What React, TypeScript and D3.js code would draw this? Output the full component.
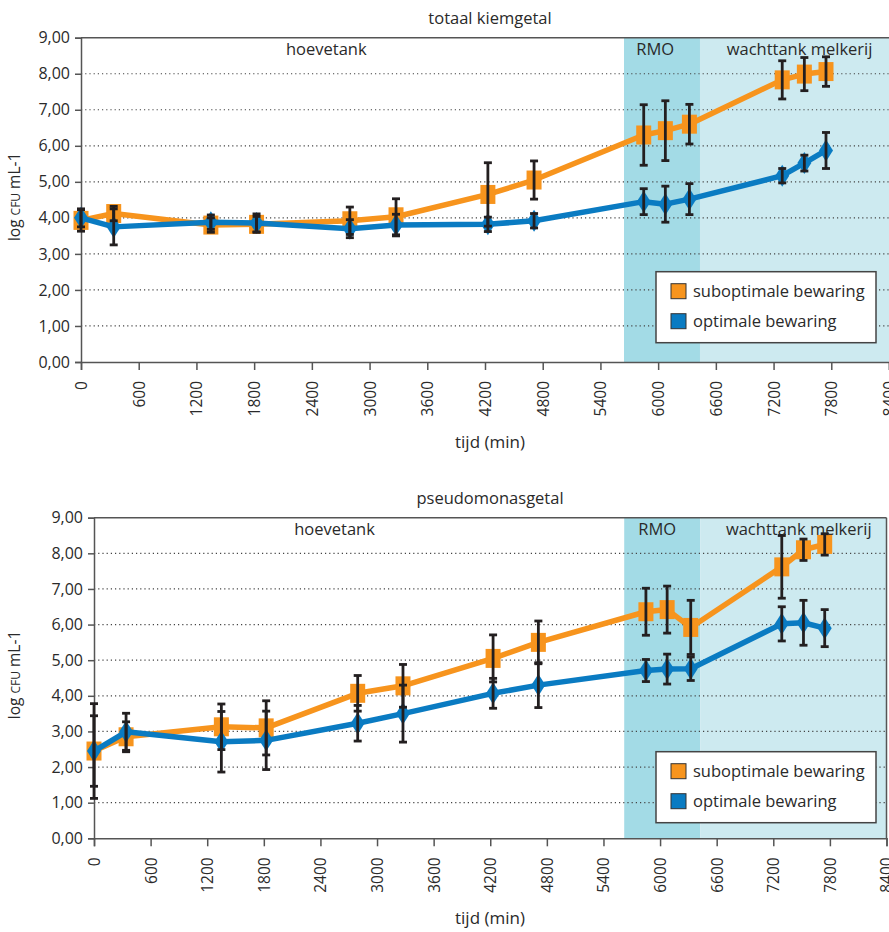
import React, { useEffect, useRef } from 'react';
import * as d3 from 'd3';

// tijd (min) van de meetpunten
const tijd = [0, 340, 1350, 1825, 2795, 3275, 4230, 4710, 5850, 6075, 6325, 7290, 7520, 7745];
const xTicks = [0, 600, 1200, 1800, 2400, 3000, 3600, 4200, 4800, 5400, 6000, 6600, 7200, 7800, 8400];
const yTicks = [0, 1, 2, 3, 4, 5, 6, 7, 8, 9];

// totaal kiemgetal
const kiemSub = [3.93, 4.12, 3.8, 3.82, 3.92, 4.03, 4.65, 5.05, 6.3, 6.42, 6.6, 7.83, 7.99, 8.06];
const kiemSubSd = [0.3, 0.2, 0.2, 0.22, 0.38, 0.5, 0.88, 0.53, 0.84, 0.83, 0.55, 0.53, 0.46, 0.41];
const kiemOpt = [4.0, 3.75, 3.88, 3.86, 3.7, 3.8, 3.82, 3.92, 4.45, 4.38, 4.52, 5.17, 5.52, 5.87];
const kiemOptSd = [0.25, 0.5, 0.2, 0.25, 0.25, 0.3, 0.2, 0.2, 0.36, 0.5, 0.43, 0.2, 0.22, 0.5];

// pseudomonasgetal
const pseuSub = [2.45, 2.85, 3.13, 3.1, 4.07, 4.28, 5.05, 5.5, 6.36, 6.42, 5.92, 7.62, 8.1, 8.25];
const pseuSubSd = [1.33, 0.42, 0.64, 0.76, 0.5, 0.6, 0.66, 0.6, 0.66, 0.66, 0.76, 0.88, 0.3, 0.3];
const pseuOpt = [2.45, 2.99, 2.71, 2.75, 3.23, 3.5, 4.07, 4.3, 4.71, 4.75, 4.76, 6.02, 6.05, 5.9];
const pseuOptSd = [0.99, 0.52, 0.85, 0.82, 0.5, 0.8, 0.42, 0.63, 0.31, 0.42, 0.33, 0.48, 0.63, 0.52];

// fasen
const fasen = ['hoevetank', 'RMO', 'wachttank melkerij'];
const faseLabelX = [2550, 5970, 7470];
const rmoStart = [5645, 5620];
const rmoEnd = [6435, 6425];

const reeksen = ['suboptimale bewaring', 'optimale bewaring'];
const kleuren = ['#f7941d', '#0a7bc2'];

const FONT = "'Open Sans', 'DejaVu Sans', sans-serif";
const INK = '#2a2a2a';

type Panel = {
  title: string;
  sub: number[];
  subSd: number[];
  opt: number[];
  optSd: number[];
  left: number;
  right: number;
  top: number;
  bottom: number;
  idx: number;
  rightBorder: boolean;
};

const drawPanel = (svg: any, p: Panel) => {
  const x = d3.scaleLinear().domain([0, 8400]).range([p.left, p.right]);
  const y = d3.scaleLinear().domain([0, 9]).range([p.bottom, p.top]);
  const g = svg.append('g').attr('font-family', FONT).attr('fill', INK);

  // achtergrondzones
  g.append('rect')
    .attr('x', x(rmoStart[p.idx])).attr('y', p.top)
    .attr('width', x(rmoEnd[p.idx]) - x(rmoStart[p.idx])).attr('height', p.bottom - p.top)
    .attr('fill', '#a3dbe6');
  g.append('rect')
    .attr('x', x(rmoEnd[p.idx])).attr('y', p.top)
    .attr('width', x(8400) - x(rmoEnd[p.idx])).attr('height', p.bottom - p.top)
    .attr('fill', '#cdeaf0');

  // gridlijnen
  g.selectAll('.grid').data(yTicks.slice(1, -1)).join('line')
    .attr('x1', p.left).attr('x2', p.right)
    .attr('y1', (d: number) => y(d)).attr('y2', (d: number) => y(d))
    .attr('stroke', '#444').attr('stroke-width', 1.2).attr('stroke-dasharray', '1.2,3');

  // kader
  g.append('line').attr('x1', p.left).attr('x2', p.right).attr('y1', p.top).attr('y2', p.top)
    .attr('stroke', '#555').attr('stroke-width', 1.5);
  if (p.rightBorder) {
    g.append('line').attr('x1', p.right).attr('x2', p.right).attr('y1', p.top).attr('y2', p.bottom)
      .attr('stroke', '#555').attr('stroke-width', 1.5);
  }

  // assen
  const yAxis = d3.axisLeft(y).tickValues(yTicks).tickSize(6).tickPadding(5)
    .tickFormat((d: any) => d3.format('.2f')(d).replace('.', ','));
  const ya = g.append('g').attr('transform', `translate(${p.left},0)`).call(yAxis);
  ya.select('.domain').attr('stroke', '#555').attr('stroke-width', 1.5);
  ya.selectAll('line').attr('stroke', '#555').attr('stroke-width', 1.5);
  ya.selectAll('text').attr('font-size', 16).attr('font-family', FONT).attr('fill', INK);

  const xAxis = d3.axisBottom(x).tickValues(xTicks).tickSize(8).tickFormat((d: any) => String(d));
  const xa = g.append('g').attr('transform', `translate(0,${p.bottom})`).call(xAxis);
  xa.select('.domain').attr('stroke', '#555').attr('stroke-width', 1.5);
  xa.selectAll('line').attr('stroke', '#555').attr('stroke-width', 1.5);
  xa.selectAll('text')
    .attr('font-size', 15.5).attr('font-family', FONT).attr('fill', INK)
    .attr('text-anchor', 'end').attr('transform', 'rotate(-90)')
    .attr('x', -19).attr('y', 0).attr('dy', '0.35em');

  // titels
  g.append('text').attr('x', 490).attr('y', p.top - 14).attr('text-anchor', 'middle')
    .attr('font-size', 16.5).text(p.title);
  g.append('text').attr('x', 490).attr('y', p.bottom + 86).attr('text-anchor', 'middle')
    .attr('font-size', 17).text('tijd (min)');
  const yl = g.append('text')
    .attr('transform', `translate(20,${(p.top + p.bottom) / 2 - 3}) rotate(-90)`)
    .attr('text-anchor', 'middle').attr('font-size', 15.5);
  yl.append('tspan').text('log ');
  yl.append('tspan').attr('font-size', 12).text('CFU');
  yl.append('tspan').text(' mL-1');

  fasen.forEach((f, i) => {
    g.append('text').attr('x', x(faseLabelX[i])).attr('y', p.top + 17)
      .attr('text-anchor', 'middle').attr('font-size', 16.5).text(f);
  });

  const line = d3.line<number>().x((_, i) => x(tijd[i])).y((d) => y(d));
  const series = [
    { vals: p.sub, sd: p.subSd, color: kleuren[0], shape: 'square' },
    { vals: p.opt, sd: p.optSd, color: kleuren[1], shape: 'diamond' },
  ];

  series.forEach((s) => {
    g.append('path').attr('d', line(s.vals)).attr('fill', 'none')
      .attr('stroke', s.color).attr('stroke-width', 5.5).attr('stroke-linejoin', 'round');
    if (s.shape === 'square') {
      g.selectAll(null).data(s.vals).join('rect')
        .attr('x', (_: number, i: number) => x(tijd[i]) - 7.5)
        .attr('y', (d: number) => y(d) - 9.5)
        .attr('width', 15).attr('height', 19)
        .attr('fill', s.color);
    } else {
      g.selectAll(null).data(s.vals).join('path')
        .attr('d', (d: number, i: number) => {
          const cx = x(tijd[i]);
          const cy = y(d);
          return `M${cx},${cy - 11}L${cx + 7},${cy}L${cx},${cy + 11}L${cx - 7},${cy}Z`;
        })
        .attr('fill', s.color);
    }
  });

  // foutbalken
  series.forEach((s) => {
    s.vals.forEach((v, i) => {
      const cx = x(tijd[i]);
      const y1 = y(v + s.sd[i]);
      const y2 = y(v - s.sd[i]);
      const eb = g.append('g').attr('stroke', '#231f20').attr('stroke-width', 2.8);
      eb.append('line').attr('x1', cx).attr('x2', cx).attr('y1', y1).attr('y2', y2);
      eb.append('line').attr('x1', cx - 4).attr('x2', cx + 4).attr('y1', y1).attr('y2', y1);
      eb.append('line').attr('x1', cx - 4).attr('x2', cx + 4).attr('y1', y2).attr('y2', y2);
    });
  });

  // legenda
  const lg = g.append('g').attr('transform', `translate(656,${p.top + 234})`);
  lg.append('rect').attr('width', 220).attr('height', 71)
    .attr('fill', '#fff').attr('stroke', '#444').attr('stroke-width', 1.5);
  reeksen.forEach((r, i) => {
    lg.append('rect').attr('x', 15).attr('y', 12 + i * 30).attr('width', 15).attr('height', 15)
      .attr('fill', kleuren[i]).attr('stroke', '#333').attr('stroke-width', 1);
    lg.append('text').attr('x', 37).attr('y', 25 + i * 30).attr('font-size', 16.5).text(r);
  });
};

const App = () => {
  const svgRef = useRef<SVGSVGElement>(null);

  useEffect(() => {
    const svg = d3.select(svgRef.current);
    svg.selectAll('*').remove();
    drawPanel(svg, {
      title: 'totaal kiemgetal', sub: kiemSub, subSd: kiemSubSd, opt: kiemOpt, optSd: kiemOptSd,
      left: 81, right: 889, top: 37.7, bottom: 362, idx: 0, rightBorder: false,
    });
    drawPanel(svg, {
      title: 'pseudomonasgetal', sub: pseuSub, subSd: pseuSubSd, opt: pseuOpt, optSd: pseuOptSd,
      left: 94, right: 886.5, top: 517.7, bottom: 838.3, idx: 1, rightBorder: true,
    });
  }, []);

  return (
    <svg
      ref={svgRef}
      width={889}
      height={932}
      style={{ position: 'absolute', left: 0, top: 0, background: '#fff' }}
    />
  );
};

export default App;
